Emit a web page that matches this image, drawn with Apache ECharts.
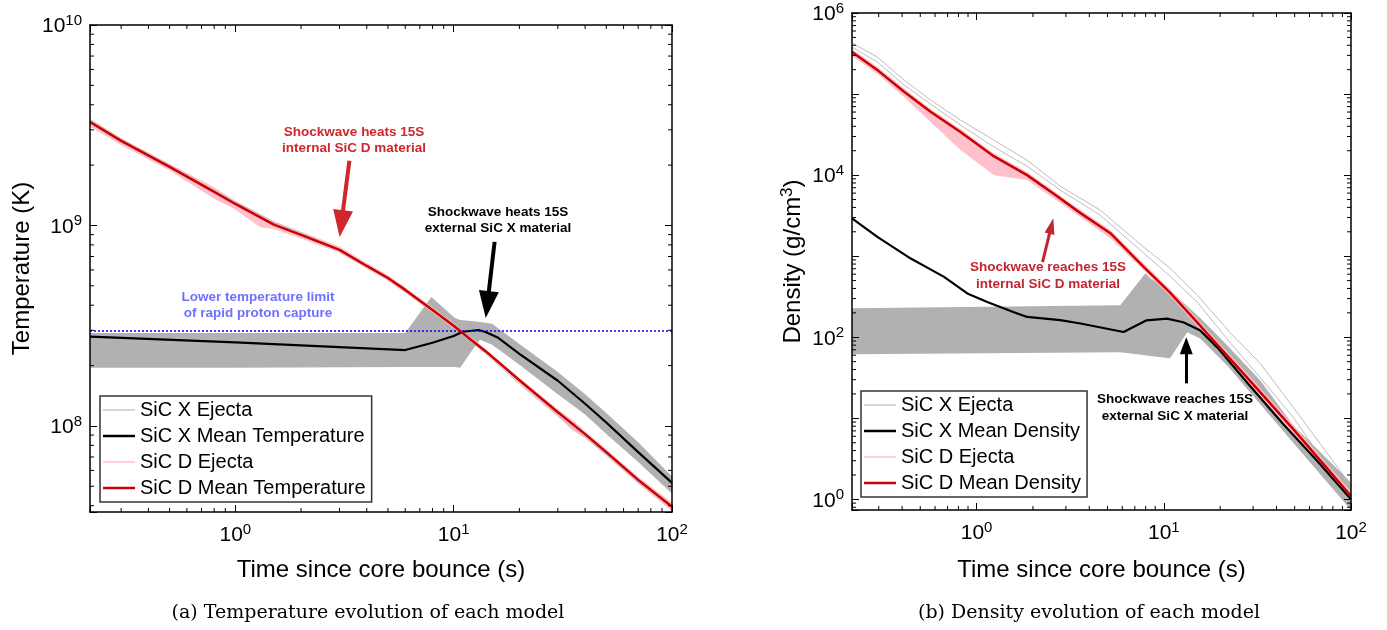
<!DOCTYPE html>
<html lang="en">
<head>
<meta charset="UTF-8">
<title>Temperature and density evolution of each model</title>
<script src="https://cdn.jsdelivr.net/npm/echarts@6/dist/echarts.min.js"></script>
<style>
  html, body { margin: 0; padding: 0; background: #fff; }
  #chart { width: 1387px; height: 630px; }
</style>
</head>
<body>
<div id="chart"></div>
<script>
// ---------- values ----------
// (a) temperature (K) vs time since core bounce (s)
var tTemp      = [0.216, 0.3, 0.5, 0.8, 1, 1.5, 2, 3, 4, 5, 6, 8, 10, 12, 14, 17, 20, 30, 40, 50, 70, 100];
var tempDMean  = [3.28e9, 2.64e9, 1.96e9, 1.47e9, 1.28e9, 1.01e9, 8.97e8, 7.55e8, 6.28e8, 5.47e8, 4.77e8, 3.79e8, 3.16e8, 2.69e8, 2.36e8, 1.97e8, 1.69e8, 1.17e8, 9.1e7, 7.4e7, 5.38e7, 3.95e7];
var tempXTrack = [3.36e9, 2.70e9, 2.0e9, 1.5e9, 1.31e9, 1.04e9, 9.2e8, 7.62e8, 6.32e8, 5.5e8, 4.8e8, 3.8e8, 3.12e8, 2.64e8, 2.3e8, 1.9e8, 1.62e8, 1.12e8, 8.8e7, 7.2e7, 5.25e7, 3.9e7];

var tTempX     = [0.216, 1, 6, 8, 10, 11, 13, 14, 16, 20, 30, 40, 50, 70, 100];
var tempXMean  = [2.79e8, 2.61e8, 2.39e8, 2.6e8, 2.81e8, 2.95e8, 3.01e8, 2.94e8, 2.75e8, 2.29e8, 1.68e8, 1.29e8, 1.04e8, 7.4e7, 5.2e7];

var tTempXBand = [0.216, 1, 6, 7.9, 10.1, 10.7, 12, 13.2, 15, 20, 30, 40, 50, 70, 100];
var tempXHi    = [2.91e8, 2.91e8, 2.91e8, 4.40e8, 3.46e8, 3.38e8, 3.34e8, 3.30e8, 3.23e8, 2.56e8, 1.86e8, 1.44e8, 1.16e8, 8.3e7, 5.6e7];
var tempXLo    = [1.95e8, 1.95e8, 1.97e8, 1.97e8, 1.97e8, 1.95e8, 2.34e8, 2.69e8, 2.54e8, 2.02e8, 1.44e8, 1.14e8, 9.1e7, 6.6e7, 4.6e7];

var tTempDBand = [0.216, 0.3, 0.5, 0.8, 1, 1.3, 1.5, 2, 3, 4, 5, 6, 8, 10, 12, 14, 17, 20, 30, 35, 40, 50, 70, 100];
var tempDHi    = [3.42e9, 2.72e9, 2.03e9, 1.55e9, 1.33e9, 1.14e9, 1.05e9, 9.3e8, 7.85e8, 6.5e8, 5.65e8, 4.92e8, 3.9e8, 3.25e8, 2.76e8, 2.42e8, 2.02e8, 1.74e8, 1.21e8, 1.07e8, 9.4e7, 7.65e7, 5.58e7, 4.15e7];
var tempDLo    = [3.12e9, 2.52e9, 1.88e9, 1.36e9, 1.2e9, 0.98e9, 0.96e9, 8.6e8, 7.3e8, 6.08e8, 5.3e8, 4.62e8, 3.68e8, 3.07e8, 2.62e8, 2.30e8, 1.92e8, 1.64e8, 1.12e8, 0.95e8, 8.7e7, 7.1e7, 5.15e7, 3.75e7];

var rpLimit = 3e8;

// (b) density (g/cm^3) vs time since core bounce (s)
var tDen      = [0.216, 0.3, 0.41, 0.57, 0.82, 1.24, 1.86, 2.58, 3.59, 5.18, 7.8, 10.8, 15, 17, 27.8, 49, 100];
var denDMean  = [3.3e5, 1.92e5, 1.07e5, 6.0e4, 3.4e4, 1.7e4, 1.0e4, 5.9e3, 3.4e3, 1.92e3, 738, 355, 155, 112, 32, 7.4, 1.1];
var denDHi    = [3.6e5, 2.1e5, 1.17e5, 6.5e4, 3.7e4, 1.85e4, 1.09e4, 6.4e3, 3.7e3, 2.1e3, 810, 392, 172, 124, 36, 8.3, 1.25];
var denDLo    = [2.95e5, 1.72e5, 9.2e4, 4.5e4, 2.04e4, 1.0e4, 8.7e3, 5.2e3, 3.03e3, 1.67e3, 675, 322, 140, 100, 28, 6.5, 0.95];

var tDenX     = [0.216, 0.295, 0.445, 0.67, 0.892, 1.14, 1.57, 1.86, 2.8, 3.59, 6.1, 8.1, 10.4, 12.7, 15.6, 19.3, 28.9, 43.4, 65.9, 100];
var denXMean  = [2.92e3, 1.73e3, 935, 556, 347, 273, 205, 178, 163, 148, 116, 162, 170, 153, 122, 75, 25, 8.5, 3.0, 1.0];

var tDenTrack = [0.216, 0.295, 0.41, 0.568, 0.82, 1.24, 1.86, 2.8, 4.58, 7.78, 10.8, 15.1, 22.8, 32.7, 49.1, 100];
var denXTrack1 = [4.26e5, 2.86e5, 1.49e5, 8.44e4, 4.78e4, 2.70e4, 1.53e4, 7.31e3, 3.7e3, 1.3e3, 711, 330, 112, 47.7, 13.7, 1.49];
var denXTrack2 = [3.8e5, 2.48e5, 1.29e5, 7.53e4, 4.14e4, 2.22e4, 1.29e4, 6.53e3, 3.2e3, 1.1e3, 567, 270, 84, 32, 10.3, 0.97];

var tDenXBand = [0.216, 5.86, 7.97, 8.47, 10.8, 13.35, 15.7, 21.8, 32.7, 49.1, 100];
var denXHi    = [228, 248, 617, 535, 380, 242, 172, 79.7, 29.4, 8.2, 1.62];
var denXLo    = [61.7, 65.3, 60, 58.6, 55.1, 115, 95.7, 45, 15, 5, 0.74];

// minor tick positions
var xMinor = [0.3, 0.4, 0.5, 0.6, 0.7, 0.8, 0.9, 2, 3, 4, 5, 6, 7, 8, 9, 20, 30, 40, 50, 60, 70, 80, 90];
var yMinorTemp = [4e7, 5e7, 6e7, 7e7, 8e7, 9e7, 2e8, 3e8, 4e8, 5e8, 6e8, 7e8, 8e8, 9e8, 2e9, 3e9, 4e9, 5e9, 6e9, 7e9, 8e9, 9e9];
var yMinorDen = [0.8, 0.9, 2, 3, 4, 5, 6, 7, 8, 9, 20, 30, 40, 50, 60, 70, 80, 90,
                 200, 300, 400, 500, 600, 700, 800, 900, 2e3, 3e3, 4e3, 5e3, 6e3, 7e3, 8e3, 9e3,
                 2e4, 3e4, 4e4, 5e4, 6e4, 7e4, 8e4, 9e4, 2e5, 3e5, 4e5, 5e5, 6e5, 7e5, 8e5, 9e5];

// ---------- chart ----------
var FONT = "'Liberation Sans', Arial, Helvetica, sans-serif";
var SERIF = "'DejaVu Serif', 'Liberation Serif', serif";
var RED = '#cc0000', PINK = '#ffc0cb', GRAY_FILL = '#b1b1b1', GRAY_LINE = '#bdbdbd';

var chart = echarts.init(document.getElementById('chart'));

function powLabel(evenOnly) {
  return function (v) {
    var e = Math.log10(v), r = Math.round(e);
    if (Math.abs(e - r) > 1e-6) return '';
    if (evenOnly && r % 2 !== 0) return '';
    return '{b|10}{s|' + r + '}';
  };
}
var labelRich = {
  b: { fontSize: 21, fontFamily: FONT, color: '#000', lineHeight: 21, verticalAlign: 'bottom' },
  s: { fontSize: 15, fontFamily: FONT, color: '#000', padding: [0, 0, 9, 0] }
};

function logAxis(grid, pos, min, max, opts) {
  var a = {
    gridIndex: grid, type: 'log', position: pos, min: min, max: max, z: 10,
    axisLine: { show: true, lineStyle: { color: '#000', width: 1.5 } },
    axisTick: { show: true, inside: true, length: 7, lineStyle: { color: '#000', width: 1 } },
    axisLabel: { show: false },
    splitLine: { show: false },
    minorTick: { show: false }
  };
  return Object.assign(a, opts || {});
}

function lineSeries(name, g, ts, vs, color, width, z, extra) {
  var s = {
    name: name, type: 'line', xAxisIndex: g * 2, yAxisIndex: g * 2,
    data: ts.map(function (t, i) { return [t, vs[i]]; }),
    symbol: 'none', showSymbol: false, silent: true, z: z,
    lineStyle: { color: color, width: width }, itemStyle: { color: color }
  };
  return Object.assign(s, extra || {});
}

function bandSeries(name, g, ts, lo, hi, color, z) {
  return {
    name: name, type: 'custom', xAxisIndex: g * 2, yAxisIndex: g * 2, z: z, silent: true, clip: true,
    itemStyle: { color: color },
    data: [[ts[0], lo[0]]],
    renderItem: function (params, api) {
      var pts = [];
      for (var i = 0; i < ts.length; i++) pts.push(api.coord([ts[i], hi[i]]));
      for (var j = ts.length - 1; j >= 0; j--) pts.push(api.coord([ts[j], lo[j]]));
      return { type: 'polygon', shape: { points: pts }, style: { fill: color } };
    }
  };
}

function minorTicks(g, vals, dir, ref) {
  return {
    type: 'custom', xAxisIndex: g * 2, yAxisIndex: g * 2, z: 11, silent: true,
    data: vals.map(function (v) { return dir === 'x' ? [v, ref] : [ref, v]; }),
    renderItem: function (params, api) {
      var cs = params.coordSys;
      var p = api.coord([api.value(0), api.value(1)]);
      var st = { stroke: '#000', lineWidth: 1 };
      var L = 4;
      if (dir === 'x') {
        return { type: 'group', children: [
          { type: 'line', shape: { x1: p[0], y1: cs.y + cs.height, x2: p[0], y2: cs.y + cs.height - L }, style: st },
          { type: 'line', shape: { x1: p[0], y1: cs.y, x2: p[0], y2: cs.y + L }, style: st }
        ] };
      }
      return { type: 'group', children: [
        { type: 'line', shape: { x1: cs.x, y1: p[1], x2: cs.x + L, y2: p[1] }, style: st },
        { type: 'line', shape: { x1: cs.x + cs.width, y1: p[1], x2: cs.x + cs.width - L, y2: p[1] }, style: st }
      ] };
    }
  };
}

function legendItem(name, color, thick) {
  return {
    name: name,
    icon: thick ? 'path://M0,0H32V2.5H0Z' : 'path://M0,0H32V1.5H0Z',
    itemStyle: { color: color, borderWidth: 0 }
  };
}
function legendBox(left, top, items) {
  return {
    orient: 'vertical', left: left, top: top, selectedMode: false,
    itemWidth: 32, itemHeight: 20, itemGap: 6, symbolKeepAspect: true,
    padding: [4, 6, 4, 3], borderColor: '#333', borderWidth: 1.5, backgroundColor: '#fff',
    textStyle: { fontSize: 20, fontFamily: FONT, color: '#000', lineHeight: 20 },
    data: items
  };
}

function arrow(from, to, color, width, size) {
  return [
    { coord: from, lineStyle: { color: color, width: width, type: 'solid' } },
    { coord: to, symbol: 'triangle', symbolSize: size, itemStyle: { color: color } }
  ];
}

var xMin = 0.216, xMax = 100;
var tMin = 3.72e7, tMax = 1e10;
var dMin = 0.74, dMax = 1e6;

var option = {
  animation: false,
  backgroundColor: '#fff',
  grid: [
    { left: 90, top: 25, width: 582, height: 487 },
    { left: 852, top: 13, width: 499, height: 497 }
  ],
  xAxis: [
    logAxis(0, 'bottom', xMin, xMax, {
      axisLabel: { show: true, formatter: powLabel(false), rich: labelRich, margin: 10 },
      name: 'Time since core bounce (s)', nameLocation: 'middle', nameGap: 46,
      nameTextStyle: { fontSize: 24, fontFamily: FONT, color: '#000' }
    }),
    logAxis(0, 'top', xMin, xMax),
    logAxis(1, 'bottom', xMin, xMax, {
      axisLabel: { show: true, formatter: powLabel(false), rich: labelRich, margin: 10 },
      name: 'Time since core bounce (s)', nameLocation: 'middle', nameGap: 48,
      nameTextStyle: { fontSize: 24, fontFamily: FONT, color: '#000' }
    }),
    logAxis(1, 'top', xMin, xMax)
  ],
  yAxis: [
    logAxis(0, 'left', tMin, tMax, {
      axisLabel: { show: true, formatter: powLabel(false), rich: labelRich, margin: 8 },
      name: 'Temperature (K)', nameLocation: 'middle', nameGap: 56,
      nameTextStyle: { fontSize: 24, fontFamily: FONT, color: '#000' }
    }),
    logAxis(0, 'right', tMin, tMax),
    logAxis(1, 'left', dMin, dMax, {
      axisLabel: { show: true, formatter: powLabel(true), rich: labelRich, margin: 8 },
      name: 'Density (g/cm{s|3})', nameLocation: 'middle', nameGap: 44,
      nameTextStyle: { fontSize: 24, fontFamily: FONT, color: '#000',
        rich: { s: { fontSize: 17, fontFamily: FONT, color: '#000', padding: [0, 0, 12, 0] } } }
    }),
    logAxis(1, 'right', dMin, dMax)
  ],
  legend: [
    legendBox(100, 396, [
      legendItem('SiC X Ejecta', '#c8c8c8', false),
      legendItem('SiC X Mean Temperature', '#000', true),
      legendItem('SiC D Ejecta', PINK, false),
      legendItem('SiC D Mean Temperature', RED, true)
    ]),
    legendBox(861, 391, [
      legendItem('SiC X Ejecta', '#c8c8c8', false),
      legendItem('SiC X Mean Density', '#000', true),
      legendItem('SiC D Ejecta', PINK, false),
      legendItem('SiC D Mean Density', RED, true)
    ])
  ],
  series: [
    // ---- panel (a)
    bandSeries('SiC X Ejecta', 0, tTempXBand, tempXLo, tempXHi, GRAY_FILL, 1),
    bandSeries('SiC D Ejecta', 0, tTempDBand, tempDLo, tempDHi, PINK, 2),
    lineSeries('SiC X Ejecta', 0, tTemp, tempXTrack, GRAY_LINE, 1, 3),
    lineSeries('SiC X Mean Temperature', 0, tTempX, tempXMean, '#000', 2.2, 4, {
      markLine: {
        silent: true, symbol: ['none', 'none'], label: { show: false }, animation: false,
        lineStyle: { color: '#0000ff', type: [2, 2], width: 1.5 },
        data: [{ yAxis: rpLimit }]
      }
    }),
    lineSeries('SiC D Mean Temperature', 0, tTemp, tempDMean, RED, 2.5, 5, {
      markLine: {
        silent: true, symbol: ['none', 'none'], label: { show: false }, animation: false,
        data: [
          arrow([3.33, 2.10e9], [3.06, 1.022e9], '#d0262c', 4, [20, 27]),
          arrow([15.4, 8.28e8], [14.26, 4.03e8], '#000', 4, [20, 27])
        ]
      }
    }),
    // ---- panel (b)
    bandSeries('SiC X Ejecta', 1, tDenXBand, denXLo, denXHi, GRAY_FILL, 1),
    bandSeries('SiC D Ejecta', 1, tDen, denDLo, denDHi, PINK, 2),
    lineSeries('SiC X Ejecta', 1, tDenTrack, denXTrack1, GRAY_LINE, 1, 3),
    lineSeries('SiC X Ejecta', 1, tDenTrack, denXTrack2, GRAY_LINE, 1, 3),
    lineSeries('SiC X Mean Density', 1, tDenX, denXMean, '#000', 2.2, 4),
    lineSeries('SiC D Mean Density', 1, tDen, denDMean, RED, 2.5, 5, {
      markLine: {
        silent: true, symbol: ['none', 'none'], label: { show: false }, animation: false,
        data: [
          arrow([2.25, 843], [2.51, 2360], '#c1272d', 3, [10, 16]),
          arrow([13.18, 27.0], [13.18, 78.5], '#000', 3, [13, 17])
        ]
      }
    }),
    // minor ticks
    minorTicks(0, xMinor, 'x', 1e9),
    minorTicks(0, yMinorTemp, 'y', 1),
    minorTicks(1, xMinor, 'x', 100),
    minorTicks(1, yMinorDen, 'y', 1)
  ],
  graphic: [
    { type: 'text', x: 354, y: 140, z: 20, style: { text: 'Shockwave heats 15S\ninternal SiC D material',
      fontFamily: FONT, fontSize: 13.5, fontWeight: 'bold', fill: '#d0262c', align: 'center', verticalAlign: 'middle', lineHeight: 16 } },
    { type: 'text', x: 498, y: 220, z: 20, style: { text: 'Shockwave heats 15S\nexternal SiC X material',
      fontFamily: FONT, fontSize: 13.5, fontWeight: 'bold', fill: '#000', align: 'center', verticalAlign: 'middle', lineHeight: 16 } },
    { type: 'text', x: 258, y: 305, z: 20, style: { text: 'Lower temperature limit\nof rapid proton capture',
      fontFamily: FONT, fontSize: 13.5, fontWeight: 'bold', fill: '#7070ff', align: 'center', verticalAlign: 'middle', lineHeight: 16 } },
    { type: 'text', x: 1048, y: 276, z: 20, style: { text: 'Shockwave reaches 15S\ninternal SiC D material',
      fontFamily: FONT, fontSize: 13.5, fontWeight: 'bold', fill: '#c1272d', align: 'center', verticalAlign: 'middle', lineHeight: 17 } },
    { type: 'text', x: 1175, y: 408, z: 20, style: { text: 'Shockwave reaches 15S\nexternal SiC X material',
      fontFamily: FONT, fontSize: 13.5, fontWeight: 'bold', fill: '#000', align: 'center', verticalAlign: 'middle', lineHeight: 17 } },
    { type: 'text', x: 368, y: 613, z: 20, style: { text: '(a) Temperature evolution of each model',
      fontFamily: SERIF, fontSize: 19, fill: '#000', align: 'center', verticalAlign: 'middle' } },
    { type: 'text', x: 1089, y: 613, z: 20, style: { text: '(b) Density evolution of each model',
      fontFamily: SERIF, fontSize: 19, fill: '#000', align: 'center', verticalAlign: 'middle' } }
  ]
};

chart.setOption(option);
</script>
</body>
</html>
